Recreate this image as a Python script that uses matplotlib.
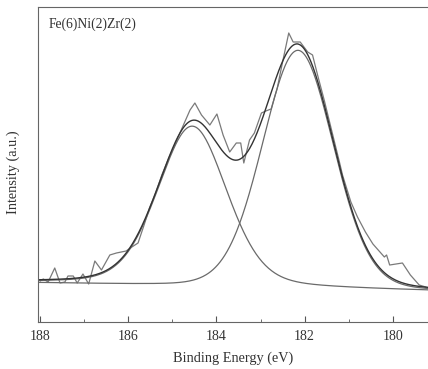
import numpy as np
import matplotlib
matplotlib.use('Agg')
import matplotlib.pyplot as plt
from matplotlib.ticker import MultipleLocator

# measured spectrum (binding energy in eV, intensity in a.u.)
energy = [188.00, 187.93, 187.82, 187.67, 187.55, 187.44, 187.37, 187.25, 187.16, 187.03,
          186.90, 186.76, 186.61, 186.42, 186.27, 186.05, 185.92, 185.78, 185.65, 185.52,
          185.38, 185.24, 185.10, 184.98, 184.85, 184.72, 184.60, 184.49, 184.34, 184.15,
          183.99, 183.85, 183.70, 183.55, 183.45, 183.38, 183.25, 183.14, 182.98, 182.88,
          182.76, 182.62, 182.50, 182.36, 182.26, 182.10, 181.93, 181.82, 181.70, 181.55,
          181.40, 181.21, 181.14, 180.95, 180.80, 180.62, 180.45, 180.19, 180.14, 180.07,
          179.78, 179.60, 179.40, 179.25]
counts = [41, 43, 40, 54, 39, 40, 46, 46, 39, 48,
          38, 61, 52, 67, 69, 71, 75, 79, 96, 114,
          129, 147, 162, 174, 187, 200, 212, 219, 207, 197,
          208, 187, 170, 179, 179, 159, 182, 189, 209, 211,
          213, 234, 260, 289, 280, 280, 270, 267, 246, 221,
          194, 160, 147, 120, 105, 90, 78, 65, 67, 57,
          59, 47, 37, 35]

# fitted components: Zr 3d3/2 and Zr 3d5/2 (pseudo-Voigt parameters)
peak_center = [184.55, 182.15]
peak_height = [160, 238]
peak_fwhm = [1.85, 1.9]
peak_lorentz = [0.25, 0.1]

# linear background end points
bg_energy = [188.0, 179.2]
bg_level = [39, 31]


def pseudo_voigt(x, c, h, f, m):
    d = (x - c) / f
    lor = 1.0 / (1.0 + 4.0 * d ** 2)
    gau = np.exp(-4.0 * np.log(2) * d ** 2)
    return h * (m * lor + (1 - m) * gau)


x = np.linspace(188.05, 179.2, 500)
bg = np.interp(x, bg_energy[::-1], bg_level[::-1])
comps = [pseudo_voigt(x, c, h, f, m) for c, h, f, m in
         zip(peak_center, peak_height, peak_fwhm, peak_lorentz)]
envelope = bg + comps[0] + comps[1]

fig = plt.figure(figsize=(4.28, 3.69), dpi=100)
ax = fig.add_axes([38 / 428, 1 - 322 / 369, 1 - 38 / 428, 315 / 369])

ax.plot(energy, counts, color='#7a7a7a', lw=0.9)
for comp in comps:
    ax.plot(x, bg + comp, color='#6a6a6a', lw=0.9)
ax.plot(x, envelope, color='#333333', lw=1.0)

ax.set_xlim(188.05, 179.2)
ax.set_ylim(0, 315)
ax.xaxis.set_major_locator(MultipleLocator(2))
ax.xaxis.set_minor_locator(MultipleLocator(1))
ax.tick_params(axis='x', which='both', direction='in', top=False, colors='#555555',
               labelcolor='#333333', labelsize=10, pad=6)
ax.tick_params(axis='x', which='major', length=4)
ax.tick_params(axis='x', which='minor', length=2)
ax.set_yticks([])
for lab in ax.get_xticklabels():
    lab.set_fontfamily('Liberation Serif')
ax.spines['right'].set_visible(False)
for s in ['left', 'top', 'bottom']:
    ax.spines[s].set_color('#666666')
    ax.spines[s].set_linewidth(0.8)

ax.set_xlabel('Binding Energy (eV)', family='Liberation Serif', fontsize=10.3,
              color='#333333', labelpad=6)
ax.set_ylabel('Intensity (a.u.)', family='Liberation Serif', fontsize=10.3,
              color='#333333')
ax.yaxis.set_label_coords(-0.045, 0.476)
ax.text(0.028, 0.945, 'Fe(6)Ni(2)Zr(2)', transform=ax.transAxes, family='Liberation Serif',
        fontsize=9.8, color='#333333', va='center')

fig.savefig('out.png', dpi=100)
